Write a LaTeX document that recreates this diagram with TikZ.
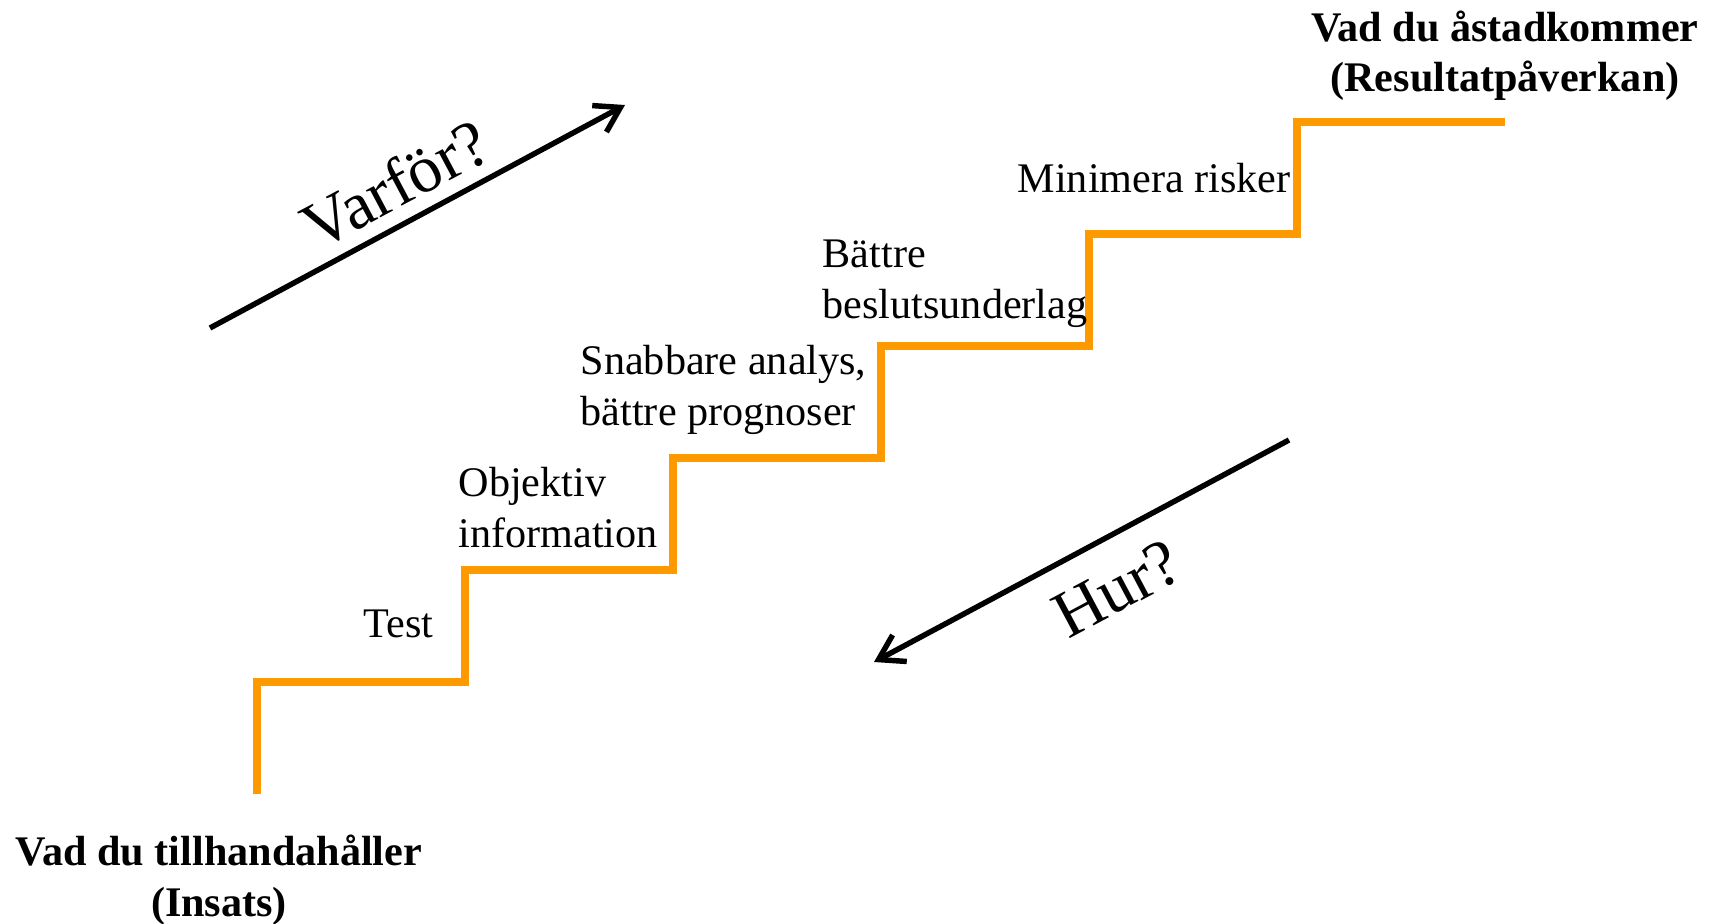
\documentclass[tikz,border=0pt]{standalone}
\usepackage{fontspec}
\setmainfont{Liberation Serif}
\usetikzlibrary{arrows.meta,positioning,calc}

\begin{document}
\begin{tikzpicture}[
  every node/.style={inner sep=0pt, align=left},
  label/.style={font=\fontsize{12}{14.3}\selectfont},
  endlabel/.style={font=\fontsize{12}{14.3}\selectfont\bfseries, align=center},
  question/.style={font=\fontsize{19}{22}\selectfont, rotate=28},
  stair/.style={draw=stairorange, line width=2.25pt, line join=miter},
  flow/.style={-{Straight Barb[length=2.4mm,width=3mm]}, line width=1.55pt}
]
\definecolor{stairorange}{HTML}{FF9900}

\useasboundingbox (0,0) rectangle (17.17,-9.24);

\def\SW{2.08}
\def\SH{1.12}

% the staircase: six steps from bottom left to top right
\coordinate (foot) at (2.57,-7.94);
\draw[stair] (foot) \foreach \i in {1,...,6} { |- ++(\SW,\SH) };

% step texts (base = last line)
\node[label, anchor=base west] (test) at (3.63,-6.37) {Test};
\node[label, anchor=base west] (objektiv) at (4.58,-5.47) {Objektiv\\information};
\node[label, anchor=base west] (snabb) at (5.80,-4.25) {Snabbare analys,\\bättre prognoser};
\node[label, anchor=base west] (beslut) at (8.22,-3.18) {Bättre\\beslutsunderlag};
\node[label, anchor=base west] (risker) at (10.17,-1.93) {Minimera risker};

% ends of the staircase
\node[endlabel, anchor=base] (result) at (15.05,-0.92) {Vad du åstadkommer\\(Resultatpåverkan)};
\node[endlabel, anchor=base] (insats) at (2.19,-9.16) {Vad du tillhandahåller\\(Insats)};

% why / how
\coordinate (varforA) at (2.10,-3.28);
\coordinate (varforB) at (6.25,-1.05);
\draw[flow] (varforA) -- (varforB);
\node[question] (varfor) at (3.95,-1.84) {Varför?};

\coordinate (hurA) at (12.89,-4.40);
\coordinate (hurB) at (8.74,-6.62);
\draw[flow] (hurA) -- (hurB);
\node[question] (hur) at (11.17,-5.89) {Hur?};

\end{tikzpicture}
\end{document}
